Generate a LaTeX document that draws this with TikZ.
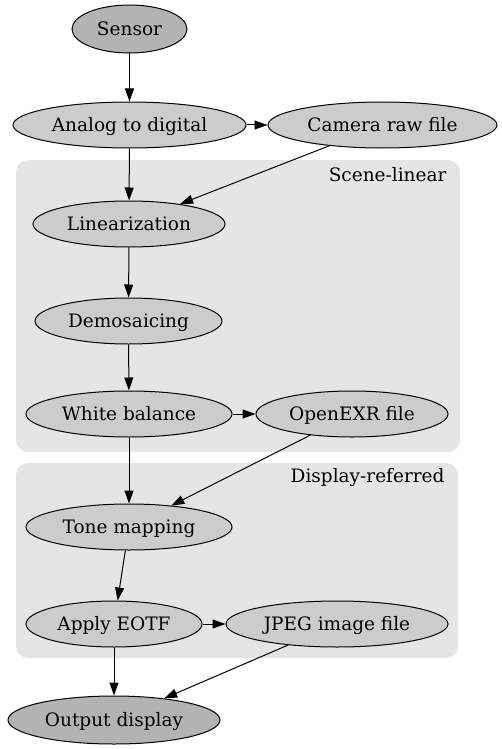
\documentclass[tikz,border=0pt]{standalone}
\usepackage{fontspec}
\setmainfont{DejaVu Serif}
\usetikzlibrary{shapes.geometric,arrows.meta}
\definecolor{clusterfill}{HTML}{E5E5E5}
\definecolor{stagefill}{HTML}{CCCCCC}
\definecolor{endfill}{HTML}{B3B3B3}

\begin{document}
\begin{tikzpicture}[x=1pt,y=-1pt,
    stage/.style={ellipse, draw, line width=1pt, fill=stagefill, inner sep=0pt,
      minimum height=46pt, text height=15pt, text depth=2pt},
    ends/.style={stage, fill=endfill, minimum height=48pt},
    cluster/.style={fill=clusterfill, rounded corners=12pt},
    flow/.style={line width=1pt, -{Triangle[length=13pt,width=9pt]}},
    every node/.style={font=\fontsize{18.5}{21}\selectfont}]

  \useasboundingbox (0,0) rectangle (502,749);

  % colour bands behind the stages
  \fill[cluster] (16,160) rectangle (460,452);
  \fill[cluster] (16,463) rectangle (458,658);
  \node[anchor=east] (lbllinear) at (450,175) {Scene-linear};
  \node[anchor=east] (lbldisplay) at (448,478) {Display-referred};

  \node[ends, minimum width=115pt] (sensor) at (129.5,29) {Sensor};
  \node[stage, minimum width=233pt] (adc) at (129.5,125) {Analog to digital};
  \node[stage, minimum width=229pt] (raw) at (382.5,125) {Camera raw file};
  \node[stage, minimum width=192pt] (linear) at (129,224) {Linearization};
  \node[stage, minimum width=187pt] (demosaic) at (128.5,321) {Demosaicing};
  \node[stage, minimum width=206pt] (balance) at (129,414) {White balance};
  \node[stage, minimum width=192pt] (exr) at (352,414) {OpenEXR file};
  \node[stage, minimum width=206pt] (tone) at (129,527) {Tone mapping};
  \node[stage, minimum width=176pt] (eotf) at (114,624) {Apply EOTF};
  \node[stage, minimum width=222pt] (jpeg) at (337,624) {JPEG image file};
  \node[ends, minimum width=212pt] (display) at (114,720) {Output display};

  \foreach \a/\b in {sensor/adc, adc/raw, adc/linear, raw/linear,
      linear/demosaic, demosaic/balance, balance/exr, balance/tone,
      exr/tone, tone/eotf, eotf/jpeg, eotf/display, jpeg/display}{
    \draw[flow] (\a) -- (\b);
  }
\end{tikzpicture}
\end{document}
